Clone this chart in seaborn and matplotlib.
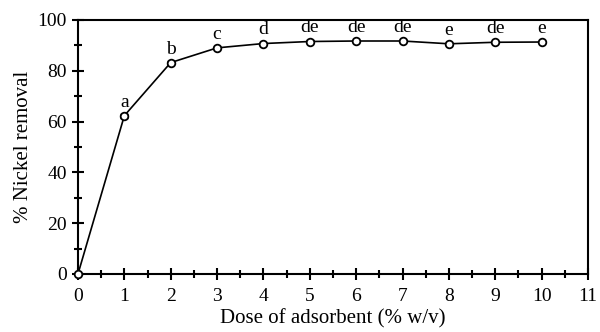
import matplotlib
matplotlib.use("Agg")
import matplotlib.pyplot as plt
import seaborn as sns
import pandas as pd
from matplotlib.ticker import MultipleLocator

dose = [0, 1, 2, 3, 4, 5, 6, 7, 8, 9, 10]
removal = [0, 62.3, 83.2, 89.0, 90.7, 91.5, 91.7, 91.7, 90.6, 91.2, 91.3]
errors = [0.3, 0.8, 0.6, 0.4, 0.4, 0.5, 0.3, 0.4, 0.5, 0.3, 0.3]
letters = ["", "a", "b", "c", "d", "de", "de", "de", "e", "de", "e"]

df = pd.DataFrame({"dose": dose, "removal": removal})

sns.set_theme(style="ticks")
plt.rcParams["font.family"] = ["Liberation Serif", "DejaVu Serif"]

fig = plt.figure(figsize=(6, 3.32), dpi=100)
ax = fig.add_axes([0.13, 0.175, 0.85, 0.765])

sns.lineplot(data=df, x="dose", y="removal", ax=ax, color="black", lw=1.2,
             marker="o", markersize=5.5, markerfacecolor="white",
             markeredgecolor="black", markeredgewidth=1.3, zorder=3,
             clip_on=False)
ax.errorbar(dose, removal, yerr=errors, fmt="none", ecolor="black",
            elinewidth=1, capsize=3, zorder=2)

for x, y, t in zip(dose, removal, letters):
    if t:
        ax.text(x, y + 2.0, t, ha="center", va="bottom", fontsize=14, color="black")

ax.set_xlim(0, 11)
ax.set_ylim(0, 100)
ax.xaxis.set_major_locator(MultipleLocator(1))
ax.xaxis.set_minor_locator(MultipleLocator(0.5))
ax.yaxis.set_major_locator(MultipleLocator(20))
ax.yaxis.set_minor_locator(MultipleLocator(10))
ax.tick_params(which="major", direction="inout", length=8, width=1.5,
               labelsize=14, colors="black")
ax.tick_params(axis="x", which="major", pad=6)
ax.tick_params(axis="y", which="major", pad=4)
ax.tick_params(which="minor", direction="inout", length=6, width=1.5, colors="black")
for s in ax.spines.values():
    s.set_linewidth(1.5)
    s.set_color("black")
ax.set_xlabel("Dose of adsorbent (% w/v)", fontsize=15, color="black", labelpad=3)
ax.set_ylabel("% Nickel removal", fontsize=15, color="black", labelpad=3)
ax.grid(False)

fig.savefig("out.png", dpi=100)
